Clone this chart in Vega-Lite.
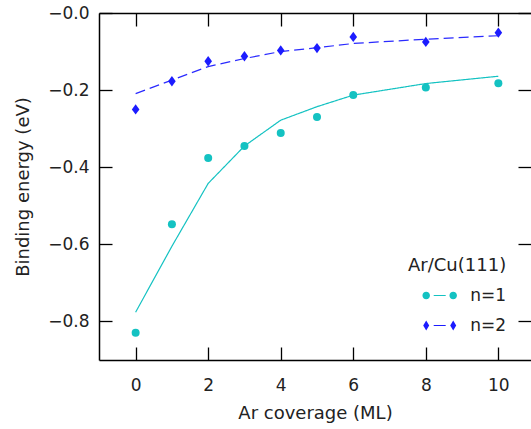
{
  "$schema": "https://vega.github.io/schema/vega-lite/v6.json",
  "width": 432,
  "height": 347,
  "autosize": {"type": "none"},
  "padding": {"left": 99, "top": 13, "right": 0, "bottom": 69},
  "background": "white",
  "config": {
    "view": {"stroke": null},
    "font": "DejaVu Sans",
    "axis": {
      "labelFont": "DejaVu Sans",
      "labelFontSize": 17,
      "labelColor": "#222",
      "titleFont": "DejaVu Sans",
      "titleFontSize": 18,
      "titleFontWeight": "normal",
      "titleColor": "#222",
      "tickColor": "black",
      "tickWidth": 1.3,
      "tickSize": -13,
      "domainColor": "black",
      "domainWidth": 1.5,
      "grid": false,
      "labelFlush": false,
      "labelOverlap": false
    },
    "legend": {
      "labelFont": "DejaVu Sans",
      "titleFont": "DejaVu Sans"
    }
  },
  "data": {
    "values": [
      {"coverage": 0, "energy": -0.829, "fit": -0.776, "n": "n=1"},
      {"coverage": 1, "energy": -0.548, "fit": -0.605, "n": "n=1"},
      {"coverage": 2, "energy": -0.376, "fit": -0.442, "n": "n=1"},
      {"coverage": 3, "energy": -0.345, "fit": -0.345, "n": "n=1"},
      {"coverage": 4, "energy": -0.311, "fit": -0.278, "n": "n=1"},
      {"coverage": 5, "energy": -0.270, "fit": -0.243, "n": "n=1"},
      {"coverage": 6, "energy": -0.213, "fit": -0.213, "n": "n=1"},
      {"coverage": 8, "energy": -0.193, "fit": -0.183, "n": "n=1"},
      {"coverage": 10, "energy": -0.182, "fit": -0.164, "n": "n=1"},
      {"coverage": 0, "energy": -0.250, "fit": -0.209, "n": "n=2"},
      {"coverage": 1, "energy": -0.177, "fit": -0.174, "n": "n=2"},
      {"coverage": 2, "energy": -0.125, "fit": -0.139, "n": "n=2"},
      {"coverage": 3, "energy": -0.112, "fit": -0.118, "n": "n=2"},
      {"coverage": 4, "energy": -0.097, "fit": -0.100, "n": "n=2"},
      {"coverage": 5, "energy": -0.091, "fit": -0.090, "n": "n=2"},
      {"coverage": 6, "energy": -0.062, "fit": -0.079, "n": "n=2"},
      {"coverage": 8, "energy": -0.075, "fit": -0.068, "n": "n=2"},
      {"coverage": 10, "energy": -0.051, "fit": -0.059, "n": "n=2"}
    ]
  },
  "layer": [
    {
      "mark": {"type": "line", "strokeWidth": 1.2, "clip": true},
      "encoding": {
        "x": {
          "field": "coverage", "type": "quantitative",
          "scale": {"domain": [-1.01, 10.9], "nice": false, "zero": false},
          "axis": {"orient": "bottom", "values": [0, 2, 4, 6, 8, 10], "format": "d", "title": "Ar coverage (ML)", "labelPadding": 30, "titlePadding": 11}
        },
        "y": {
          "field": "fit", "type": "quantitative",
          "scale": {"domain": [-0.9, 0], "nice": false, "zero": false},
          "axis": {"orient": "left", "values": [-0.8, -0.6, -0.4, -0.2, 0], "labelExpr": "datum.value == 0 ? '\u22120.0' : format(datum.value, '.1f')", "title": "Binding energy (eV)", "labelPadding": 23, "titlePadding": 15}
        },
        "color": {"field": "n", "type": "nominal", "scale": {"domain": ["n=1", "n=2"], "range": ["#14c2c2", "#2a2aff"]}, "legend": null},
        "strokeDash": {"field": "n", "type": "nominal", "scale": {"domain": ["n=1", "n=2"], "range": [[1, 0], [10, 5]]}, "legend": null}
      }
    },
    {
      "mark": {"type": "point", "filled": true, "opacity": 1, "size": 64, "strokeWidth": 0},
      "encoding": {
        "x": {
          "field": "coverage", "type": "quantitative",
          "scale": {"domain": [-1.01, 10.9], "nice": false, "zero": false},
          "axis": {"orient": "top", "values": [0, 2, 4, 6, 8, 10], "labels": false, "title": null}
        },
        "y": {
          "field": "energy", "type": "quantitative",
          "scale": {"domain": [-0.9, 0], "nice": false, "zero": false},
          "axis": {"orient": "right", "values": [-0.8, -0.6, -0.4, -0.2, 0], "labels": false, "title": null, "domain": false}
        },
        "color": {"field": "n", "type": "nominal", "scale": {"domain": ["n=1", "n=2"], "range": ["#14c2c2", "#1c1cff"]}, "legend": null},
        "shape": {"field": "n", "type": "nominal", "scale": {"domain": ["n=1", "n=2"], "range": ["circle", "M0,-1.3L0.95,0L0,1.3L-0.95,0Z"]}, "legend": null}
      }
    },
    {
      "transform": [{"filter": "datum.coverage > 100"}],
      "mark": {"type": "point", "filled": true, "opacity": 1, "size": 900, "strokeWidth": 0},
      "encoding": {
        "color": {
          "field": "n", "type": "nominal",
          "scale": {"domain": ["n=1", "n=2"], "range": ["#14c2c2", "#1c1cff"]},
          "legend": {"title": "Ar/Cu(111)", "orient": "none", "legendX": 309, "legendY": 243.5, "titleFontSize": 18, "titleFontWeight": "normal", "titleColor": "#222", "titlePadding": 6, "labelFontSize": 17, "labelColor": "#222", "symbolSize": 900, "symbolStrokeWidth": 0, "symbolOpacity": 1, "symbolOffset": 16.7, "labelOffset": 15.5, "rowPadding": 0, "clipHeight": 30, "padding": 0}
        },
        "shape": {
          "field": "n", "type": "nominal",
          "scale": {"domain": ["n=1", "n=2"], "range": [
            "M-1.15,0A0.25,0.25 0 1,0 -0.65,0A0.25,0.25 0 1,0 -1.15,0Z M0.65,0A0.25,0.25 0 1,0 1.15,0A0.25,0.25 0 1,0 0.65,0Z M-0.4,-0.035L0.4,-0.035L0.4,0.035L-0.4,0.035Z",
            "M-0.9,-0.333L-0.7,0L-0.9,0.333L-1.1,0Z M0.9,-0.333L1.1,0L0.9,0.333L0.7,0Z M-0.4,-0.035L0.4,-0.035L0.4,0.035L-0.4,0.035Z"
          ]},
          "legend": {"title": "Ar/Cu(111)", "orient": "none", "legendX": 309, "legendY": 243.5, "titleFontSize": 18, "titleFontWeight": "normal", "titleColor": "#222", "titlePadding": 6, "labelFontSize": 17, "labelColor": "#222", "symbolSize": 900, "symbolStrokeWidth": 0, "symbolOpacity": 1, "symbolOffset": 16.7, "labelOffset": 15.5, "rowPadding": 0, "clipHeight": 30, "padding": 0}
        }
      }
    }
  ],
  "resolve": {
    "scale": {"color": "independent", "shape": "independent", "strokeDash": "independent"},
    "axis": {"x": "independent", "y": "independent"}
  }
}
